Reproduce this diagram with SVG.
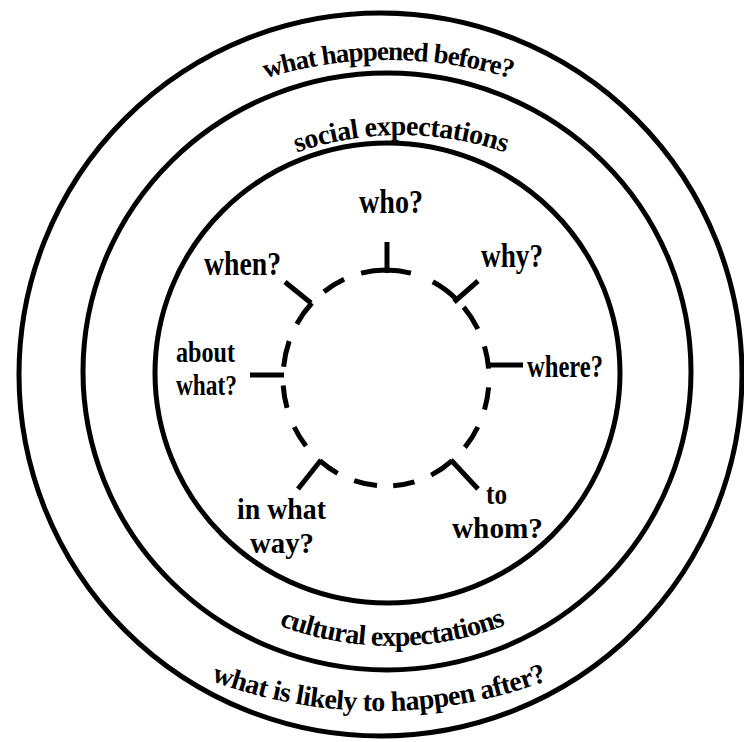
<svg xmlns="http://www.w3.org/2000/svg" width="744" height="742" viewBox="0 0 744 742">
<style>
.ring{fill:none;stroke:#000;stroke-width:5}
.dash{fill:none;stroke:#000;stroke-width:5;stroke-linecap:butt}
.tick{stroke:#000;stroke-width:5;stroke-linecap:butt}
.lbl{font-family:"Liberation Serif","Times New Roman",serif;font-weight:bold;fill:#000}
.arc{font-family:"Liberation Serif","Times New Roman",serif;font-weight:bold;fill:#000;text-anchor:middle}
</style>
<defs>
<path id="pBefore" d="M224.5,93.1 A420,420 0 0 1 551.5,93.1"/>
<path id="pSocial" d="M261.8,166.9 A320,320 0 0 1 540.2,166.9"/>
<path id="pCultural" d="M238.6,606.8 A320,320 0 0 0 545.4,606.8"/>
<path id="pAfter" d="M170.2,663.2 A480,480 0 0 0 587.8,663.2"/>
</defs>
<rect width="744" height="742" fill="#fff"/>
<g id="ring-outer">
<ellipse class="ring" cx="380.5" cy="374.5" rx="361.5" ry="361.5"/>
<text class="arc" font-size="27" letter-spacing="-1"><textPath href="#pBefore" startOffset="50%">what happened before?</textPath></text>
<text class="arc" font-size="28" letter-spacing="-0.6"><textPath href="#pAfter" startOffset="50%">what is likely to happen after?</textPath></text>
</g>
<g id="ring-middle">
<ellipse class="ring" cx="387" cy="371.5" rx="304" ry="298.5"/>
<text class="arc" font-size="28" letter-spacing="-0.5"><textPath href="#pSocial" startOffset="50%">social expectations</textPath></text>
<text class="arc" font-size="28" letter-spacing="-0.9"><textPath href="#pCultural" startOffset="50%">cultural expectations</textPath></text>
</g>
<g id="ring-inner">
<ellipse class="ring" cx="387.5" cy="373" rx="232.5" ry="230"/>
</g>
<g id="dashed-circle">
<path class="dash" d="M361.1,273.2 A103,108 0 0 1 410.9,273.2 M432.8,281.8 A103,108 0 0 1 456.2,299 M463.7,307.1 A103,108 0 0 1 477.8,329 M484.5,346.4 A103,108 0 0 1 488.6,368.6 M488.6,387.4 A103,108 0 0 1 484.5,409.6 M477.8,427 A103,108 0 0 1 464.9,447.4 M452.2,460.7 A103,108 0 0 1 431.2,475.1 M414.4,481.8 A103,108 0 0 1 393.2,485.7 M377,485.6 A103,108 0 0 1 354.2,480.7 M337.6,473.4 A103,108 0 0 1 319.8,460.7 M306,446 A103,108 0 0 1 294.2,427 M287,407.8 A103,108 0 0 1 283.2,385.5 M283.6,366.7 A103,108 0 0 1 289.2,341.1 M296.8,324 A103,108 0 0 1 311.9,303 M324,291.8 A103,108 0 0 1 344.1,279.3"/>
</g>
<g id="connectors">
<line class="tick" x1="387" y1="273" x2="387" y2="242"/>
<line class="tick" x1="454" y1="302" x2="478" y2="281"/>
<line class="tick" x1="311" y1="303" x2="285" y2="282"/>
<line class="tick" x1="486" y1="365" x2="523" y2="365"/>
<line class="tick" x1="250" y1="375" x2="284" y2="375"/>
<line class="tick" x1="321" y1="460" x2="298" y2="489"/>
<line class="tick" x1="451" y1="460" x2="478" y2="489"/>
</g>
<g id="who"><text class="lbl" font-size="34" x="359" y="213" textLength="64" lengthAdjust="spacingAndGlyphs">who?</text></g>
<g id="when"><text class="lbl" font-size="34" x="204" y="275" textLength="77" lengthAdjust="spacingAndGlyphs">when?</text></g>
<g id="why"><text class="lbl" font-size="34" x="481" y="267" textLength="62" lengthAdjust="spacingAndGlyphs">why?</text></g>
<g id="about-what">
<text class="lbl" font-size="29" x="176" y="362" textLength="59" lengthAdjust="spacingAndGlyphs">about</text>
<text class="lbl" font-size="29" x="176" y="395" textLength="61" lengthAdjust="spacingAndGlyphs">what?</text>
</g>
<g id="where"><text class="lbl" font-size="32" x="527" y="377" textLength="76" lengthAdjust="spacingAndGlyphs">where?</text></g>
<g id="in-what-way">
<text class="lbl" font-size="30" x="237" y="519" textLength="89" lengthAdjust="spacingAndGlyphs">in what</text>
<text class="lbl" font-size="30" x="250" y="553" textLength="64" lengthAdjust="spacingAndGlyphs">way?</text>
</g>
<g id="to-whom">
<text class="lbl" font-size="30" x="486" y="504" textLength="21" lengthAdjust="spacingAndGlyphs">to</text>
<text class="lbl" font-size="30" x="452" y="538" textLength="91" lengthAdjust="spacingAndGlyphs">whom?</text>
</g>
</svg>
